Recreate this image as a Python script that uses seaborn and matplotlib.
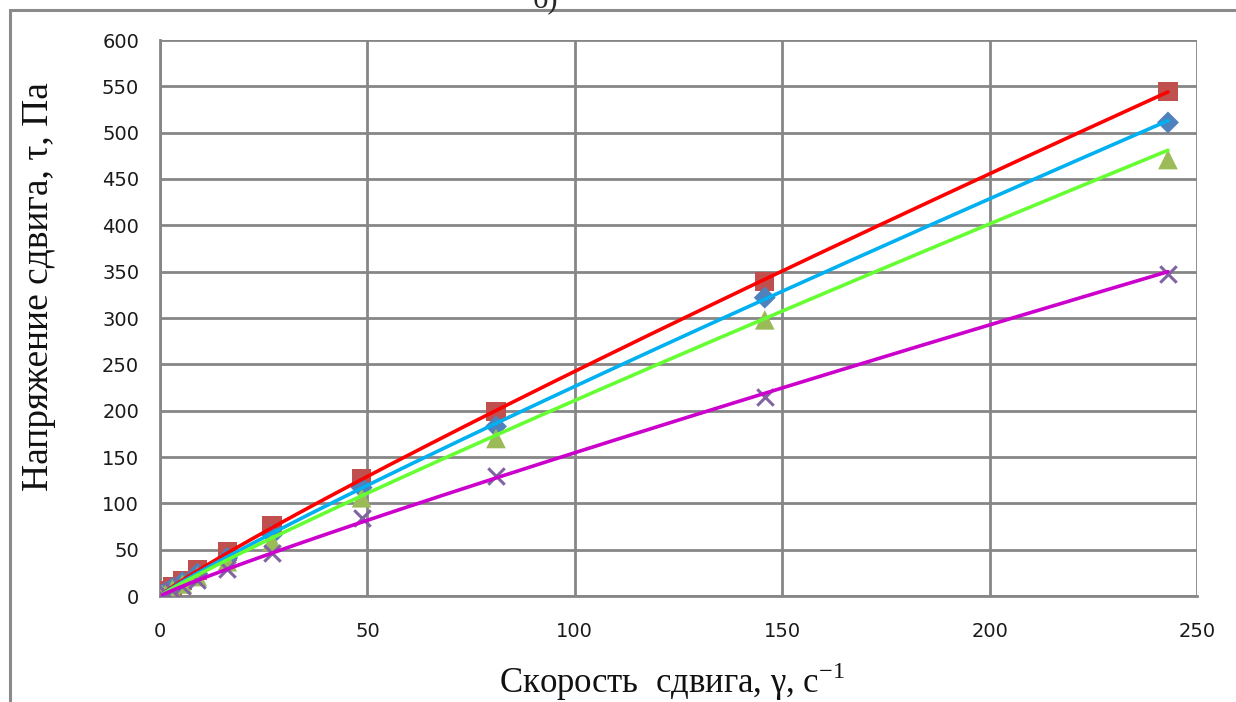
import numpy as np
import pandas as pd
import matplotlib
matplotlib.use("Agg")
import matplotlib.pyplot as plt
import matplotlib.patches as mpatches
import seaborn as sns

# ---- data ----
shear_rate = [0.5, 1.5, 3, 5.4, 9, 16.2, 27, 48.6, 81, 145.8, 243]
tau_red    = [2, 5.5, 10, 17, 28, 48, 76, 127, 199, 339, 544]
tau_blue   = [1.5, 4.5, 8.5, 15, 24, 41, 66, 117, 183, 322, 511]
tau_green  = [1.5, 4, 7.5, 13, 21, 37, 59, 106, 170, 298, 471]
tau_purple = [1, 3, 6, 11, 17, 29, 46.5, 84, 129, 215, 347]

# power-law trendlines tau = k * gamma^n
series_names = ["red", "blue", "green", "purple"]
trend_k = [3.67, 3.24, 2.94, 2.235]
trend_n = [0.910, 0.922, 0.928, 0.920]

x_ticks = [0, 50, 100, 150, 200, 250]
y_ticks = [0, 50, 100, 150, 200, 250, 300, 350, 400, 450, 500, 550, 600]

series = dict(zip(series_names, [tau_red, tau_blue, tau_green, tau_purple]))
marker_style = {
    "red":    dict(marker="s", color="#C0504D", s=190, edgecolor="none"),
    "blue":   dict(marker="D", color="#4F81BD", s=125, edgecolor="none"),
    "green":  dict(marker="^", color="#9BBB59", s=200, edgecolor="none"),
    "purple": dict(marker="x", color="#8064A2", s=140, linewidth=2.2),
}
line_color = {"red": "#FF0000", "blue": "#00B0F0", "green": "#66FF33", "purple": "#CC00CC"}

sns.set_theme(style="white")
plt.rcParams["font.family"] = ["DejaVu Sans"]

fig = plt.figure(figsize=(12.36, 7.02), dpi=100)
ax = fig.add_axes([160/1236, 1 - 596/702, (1197-160)/1236, (596-40)/702])

# frame around the figure and clipped caption (as in the reference)
fig.patches.append(mpatches.Rectangle((10/1236, -0.05), 1.2, 1 - 10/702 + 0.05,
                                      transform=fig.transFigure, fill=False,
                                      edgecolor="#8a8a8a", linewidth=2.2))
fig.text(545/1236, 1 - 7/702, "б)", ha="center", va="baseline",
         fontsize=22, family=["Liberation Serif"])

rows = []
for name, vals in series.items():
    for xv, yv in zip(shear_rate, vals):
        rows.append({"series": name, "x": xv, "y": yv})
df = pd.DataFrame(rows)

# markers
for name in series_names:
    sub = df[df.series == name]
    sns.scatterplot(data=sub, x="x", y="y", ax=ax, zorder=3, legend=False,
                    **marker_style[name])

# trendlines
xs = np.linspace(min(shear_rate), max(shear_rate), 400)
for name, k, n in zip(series_names, trend_k, trend_n):
    fit = pd.DataFrame({"x": xs, "y": k * xs ** n})
    sns.lineplot(data=fit, x="x", y="y", ax=ax, color=line_color[name],
                 linewidth=2.6, zorder=4, legend=False)

ax.set_xlim(0, 250)
ax.set_ylim(0, 600)
ax.set_xticks(x_ticks)
ax.set_yticks(y_ticks)
ax.grid(True, color="#868686", linewidth=2.0)
ax.set_axisbelow(True)
for side in ["top", "right"]:
    ax.spines[side].set_visible(False)
for side in ["left", "bottom"]:
    ax.spines[side].set_color("#868686")
    ax.spines[side].set_linewidth(2.0)
ax.tick_params(axis="both", which="major", direction="out", length=5, width=1.5,
               color="#868686", labelsize=14, labelcolor="#1a1a1a")
ax.tick_params(axis="y", pad=10)
ax.tick_params(axis="x", pad=14)

ax.set_xlabel(r"Скорость  сдвига, γ, с$^{\mathregular{-1}}$", fontsize=25,
              family=["Liberation Serif"], color="#111111")
ax.set_ylabel("Напряжение сдвига, τ, Па", fontsize=27,
              family=["Liberation Serif"], color="#111111")
ax.xaxis.set_label_coords((672 - 160) / 1037, -(660 - 596) / 556)
ax.yaxis.set_label_coords(-(160 - 56) / 1037, (596 - 287) / 556)

fig.savefig("out.png", dpi=100)
